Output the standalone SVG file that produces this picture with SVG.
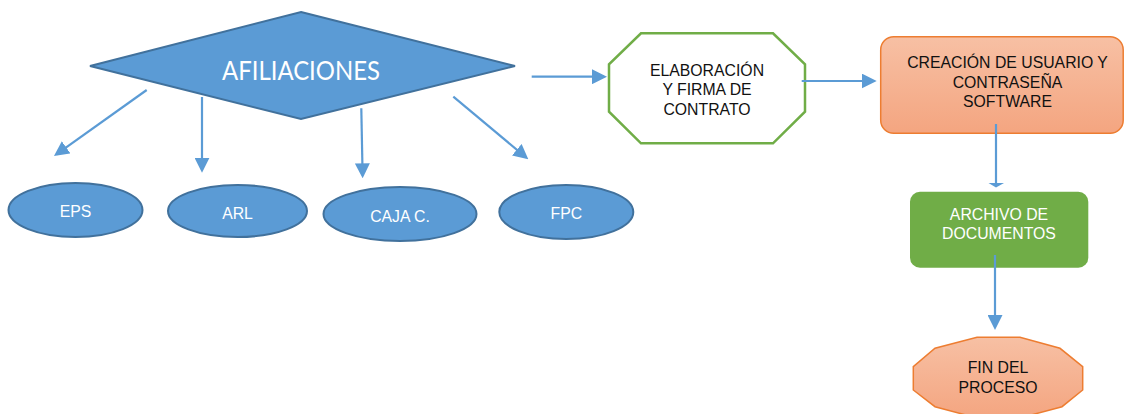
<svg xmlns="http://www.w3.org/2000/svg" width="1124" height="414" viewBox="0 0 1124 414">
  <style>
    .lbl { font-family: "Liberation Sans", Arial, sans-serif; font-size: 15.8px; text-anchor: middle; }
    .white { fill: #ffffff; }
    .dark { fill: #111111; }
    .blue { fill: #5b9bd5; stroke: #41719c; stroke-width: 2; }
    .peach { fill: url(#peach); stroke: #ed7d31; stroke-width: 1.5; }
    .conn { fill: none; stroke: #5b9bd5; stroke-width: 2.2; }
  </style>
  <defs>
    <linearGradient id="peach" x1="0" y1="0" x2="0" y2="1">
      <stop offset="0" stop-color="#f7c0a4"/>
      <stop offset="1" stop-color="#f4a580"/>
    </linearGradient>
    <marker id="ah" viewBox="0 0 15 15" markerWidth="15" markerHeight="15" refX="12" refY="7.5" orient="auto" markerUnits="userSpaceOnUse">
      <path d="M0,0 L15,7.5 L0,15 z" fill="#5b9bd5"/>
    </marker>
  </defs>

  <rect width="1124" height="414" fill="#ffffff"/>

  <!-- decision diamond -->
  <g id="afiliaciones">
    <polygon class="blue" points="301,12 515,66 301,119 90,66"/>
    <text x="301" y="79.5" font-family="Lato, 'Open Sans', sans-serif" font-size="26.5" fill="#ffffff" text-anchor="middle" textLength="158" lengthAdjust="spacingAndGlyphs">AFILIACIONES</text>
  </g>

  <!-- affiliation ellipses -->
  <g id="eps">
    <ellipse class="blue" cx="75.5" cy="210" rx="67" ry="27"/>
    <text class="lbl white" x="75.5" y="217">EPS</text>
  </g>
  <g id="arl">
    <ellipse class="blue" cx="237.5" cy="211" rx="69.5" ry="26"/>
    <text class="lbl white" x="237.5" y="219">ARL</text>
  </g>
  <g id="caja">
    <ellipse class="blue" cx="400" cy="214" rx="76.5" ry="27"/>
    <text class="lbl white" x="400" y="221.5">CAJA C.</text>
  </g>
  <g id="fpc">
    <ellipse class="blue" cx="566.3" cy="212" rx="67" ry="27"/>
    <text class="lbl white" x="566.3" y="219">FPC</text>
  </g>

  <!-- contract octagon -->
  <g id="contrato">
    <polygon points="641,33.3 773,33.3 805,64.3 805,111.7 773,143.3 641,143.3 609,111.7 609,64.3" fill="#ffffff" stroke="#70ad47" stroke-width="2.5"/>
    <text class="lbl dark" x="707" y="75.7">ELABORACIÓN</text>
    <text class="lbl dark" x="707" y="95.3">Y FIRMA DE</text>
    <text class="lbl dark" x="707" y="114.8">CONTRATO</text>
  </g>

  <!-- user creation -->
  <g id="usuario">
    <rect class="peach" x="880.7" y="36.7" width="242.5" height="96.6" rx="13" ry="13"/>
    <text class="lbl dark" x="1007.5" y="68.3">CREACIÓN DE USUARIO Y</text>
    <text class="lbl dark" x="1007.5" y="88">CONTRASEÑA</text>
    <text class="lbl dark" x="1007.5" y="106.7">SOFTWARE</text>
  </g>

  <!-- document archive -->
  <g id="archivo">
    <rect x="910" y="191.7" width="178.3" height="76" rx="10" ry="10" fill="#70ad47"/>
    <text class="lbl white" x="999" y="220">ARCHIVO DE</text>
    <text class="lbl white" x="999" y="239">DOCUMENTOS</text>
  </g>

  <!-- end of process -->
  <g id="fin">
    <polygon class="peach" points="977,337.3 1020,337.3 1060,348.3 1082.7,366.7 1082.7,390 1062,406.7 1020,418 977,418 935,406.7 913.3,390 913.3,366.7 935,348.3"/>
    <text class="lbl dark" x="998" y="373.3">FIN DEL</text>
    <text class="lbl dark" x="998" y="392.5">PROCESO</text>
  </g>

  <!-- connectors -->
  <g id="connectors">
    <line class="conn" x1="146.7" y1="90" x2="56.4" y2="154.3" marker-end="url(#ah)"/>
    <line class="conn" x1="202" y1="97" x2="202" y2="169.7" marker-end="url(#ah)"/>
    <line class="conn" x1="361.3" y1="108.3" x2="362.6" y2="175.3" marker-end="url(#ah)"/>
    <line class="conn" x1="453.3" y1="96.7" x2="526" y2="157.4" marker-end="url(#ah)"/>
    <line class="conn" x1="531.7" y1="76.7" x2="604" y2="76.7" marker-end="url(#ah)"/>
    <line class="conn" x1="801.7" y1="81" x2="873.7" y2="81" marker-end="url(#ah)"/>
    <line class="conn" x1="996" y1="124" x2="996" y2="184"/>
    <polygon points="988.5,183 1004,183 996,187.5" fill="#5b9bd5"/>
    <line class="conn" x1="995" y1="255" x2="995" y2="327" marker-end="url(#ah)"/>
  </g>
</svg>
